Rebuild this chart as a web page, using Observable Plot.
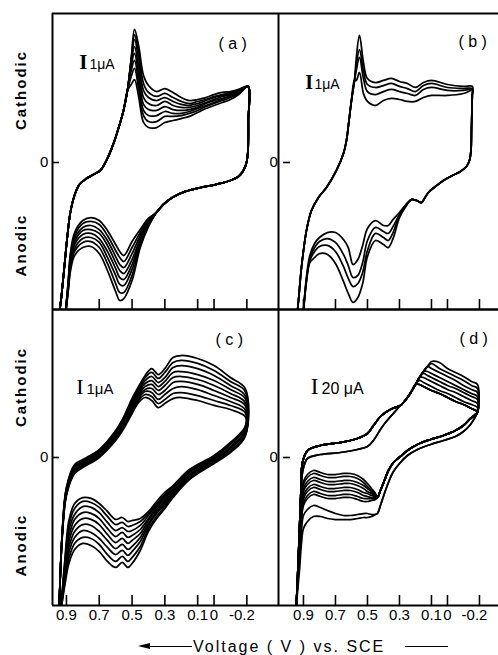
<!DOCTYPE html>
<html>
<head>
<meta charset="utf-8">
<script src="https://cdn.jsdelivr.net/npm/d3@7"></script>
<script src="https://cdn.jsdelivr.net/npm/@observablehq/plot@0.6"></script>
<style>
  html, body { margin: 0; padding: 0; background: #fff; }
  #fig { position: relative; width: 498px; height: 655px; overflow: hidden; background: #fff;
         font-family: "Liberation Sans", Arial, sans-serif; color: #000; }
  #fig svg { position: absolute; }
  .side { position: absolute; transform: translate(-50%, -50%) rotate(-90deg); font-weight: bold;
          font-size: 15px; letter-spacing: 2px; white-space: nowrap; line-height: 16px; }
  .xtitle { position: absolute; top: 637px; left: 193px; font-size: 16px; letter-spacing: 2px;
            line-height: 20px; white-space: nowrap; }
  .hline { position: absolute; height: 1.5px; background: #000; }
  .head { position: absolute; width: 0; height: 0; border-top: 3px solid transparent;
          border-bottom: 3px solid transparent; border-right: 12px solid #000; }
</style>
</head>
<body>
<div id="fig">
  <div class="side" style="left:21px;top:90px">Cathodic</div>
  <div class="side" style="left:21px;top:245px">Anodic</div>
  <div class="side" style="left:21px;top:387px">Cathodic</div>
  <div class="side" style="left:21px;top:545px">Anodic</div>
  <div class="head" style="left:138px;top:643px"></div>
  <div class="hline" style="left:148px;top:645.5px;width:44px"></div>
  <div class="xtitle">Voltage ( V ) vs. SCE</div>
  <div class="hline" style="left:405px;top:645.5px;width:43px"></div>
</div>
<script>
// ---------- axis ticks ----------
const X_TICKS = [0.9, 0.7, 0.5, 0.3, 0.1, 0, -0.2];
const X_TICK_LABELS = ["0.9", "0.7", "0.5", "0.3", "0.1", "0", "-0.2"];

// ---------- panel (a): potential V, current µA ----------
const A_LOW_V = [0.91, 0.89, 0.875, 0.85, 0.8, 0.75, 0.7, 0.65, 0.6, 0.575, 0.55, 0.5, 0.45, 0.4];
const A_LOW = [
  [-10.53, -8.07, -6.0, -4.67, -3.87, -3.67, -3.87, -4.53, -5.47, -5.93, -6.2, -5.27, -4.47, -3.73],
  [-10.53, -8.13, -6.13, -4.87, -4.07, -3.93, -4.13, -4.87, -5.87, -6.33, -6.6, -5.67, -4.67, -3.8],
  [-10.53, -8.2, -6.33, -5.07, -4.33, -4.2, -4.47, -5.2, -6.27, -6.8, -7.0, -6.07, -4.87, -3.87],
  [-10.53, -8.33, -6.47, -5.27, -4.53, -4.47, -4.73, -5.53, -6.67, -7.2, -7.4, -6.47, -5.07, -3.93],
  [-10.53, -8.4, -6.67, -5.47, -4.8, -4.73, -5.07, -5.93, -7.07, -7.67, -7.8, -6.8, -5.2, -4.0],
  [-10.53, -8.47, -6.8, -5.73, -5.07, -5.0, -5.33, -6.33, -7.53, -8.13, -8.2, -7.13, -5.33, -4.07],
  [-10.53, -8.6, -7.0, -5.93, -5.33, -5.27, -5.67, -6.73, -8.07, -8.67, -8.67, -7.53, -5.53, -4.2],
  [-10.53, -8.67, -7.2, -6.2, -5.67, -5.6, -6.07, -7.2, -8.6, -9.2, -9.07, -7.87, -5.67, -4.27]
];
const A_R_V = [0.351, 0.309, 0.254, 0.174, 0.083, -0.009, -0.1, -0.149, -0.179, -0.198, -0.207, -0.209, -0.207];
const A_R_I = [-3.33, -2.8, -2.33, -1.93, -1.67, -1.47, -1.2, -0.93, -0.53, 0, 0.8, 2.8, 5.07];
const A_UP_V = [-0.15, -0.1, -0.05, 0, 0.05, 0.1, 0.15, 0.2, 0.25, 0.3, 0.35, 0.4, 0.43, 0.46, 0.485, 0.505];
const A_UP = [
  [4.87, 4.73, 4.67, 4.53, 4.33, 4.2, 4.13, 4.33, 4.67, 4.93, 4.73, 5.13, 5.8, 7.8, 8.87, 6.93],
  [4.8, 4.67, 4.53, 4.4, 4.2, 4.07, 3.93, 4.07, 4.33, 4.6, 4.4, 4.67, 5.27, 7.33, 8.53, 6.87],
  [4.8, 4.6, 4.47, 4.33, 4.13, 3.93, 3.8, 3.87, 4.07, 4.33, 4.13, 4.33, 4.8, 6.93, 8.2, 6.8],
  [4.73, 4.53, 4.4, 4.2, 4.0, 3.8, 3.67, 3.67, 3.8, 4.07, 3.8, 3.93, 4.33, 6.4, 7.73, 6.67],
  [4.67, 4.47, 4.27, 4.13, 3.93, 3.67, 3.53, 3.47, 3.53, 3.73, 3.47, 3.53, 3.87, 5.87, 7.27, 6.47],
  [4.67, 4.4, 4.2, 4.0, 3.8, 3.6, 3.4, 3.27, 3.27, 3.4, 3.13, 3.13, 3.47, 5.4, 6.8, 6.13],
  [4.6, 4.33, 4.13, 3.93, 3.73, 3.47, 3.27, 3.13, 3.07, 3.07, 2.73, 2.73, 3.13, 4.93, 6.27, 5.73],
  [4.53, 4.2, 4.0, 3.8, 3.6, 3.33, 3.07, 2.93, 2.8, 2.67, 2.33, 2.33, 2.67, 4.4, 5.53, 5.2]
];
const A_L_V = [0.528, 0.552, 0.583, 0.613, 0.65, 0.693, 0.735, 0.778, 0.821, 0.851, 0.876, 0.894, 0.912, 0.93, 0.94, 0.946];
const A_L_I = [4.8, 3.47, 2.27, 1.27, 0.27, -0.53, -0.8, -1.07, -1.47, -2.2, -3.33, -4.87, -6.87, -8.87, -9.8, -10.87];

// ---------- panel (b) ----------
const B_LOW_V = [0.905, 0.88, 0.86, 0.83, 0.8, 0.75, 0.7, 0.65, 0.62, 0.59, 0.56, 0.53, 0.5, 0.45, 0.4, 0.37, 0.34, 0.3, 0.26];
const B_LOW = [
  [-10.53, -7.53, -6.2, -5.4, -5.0, -4.67, -4.67, -5.13, -5.67, -6.8, -6.47, -5.53, -4.4, -3.87, -4.2, -4.2, -3.8, -3.33, -2.8],
  [-10.53, -7.67, -6.4, -5.67, -5.27, -5.07, -5.33, -6.13, -6.87, -7.67, -7.53, -6.67, -5.2, -4.33, -4.6, -4.73, -4.27, -3.47, -2.87],
  [-10.53, -7.73, -6.53, -5.93, -5.6, -5.53, -5.93, -6.93, -7.73, -8.27, -8.07, -7.33, -5.87, -4.73, -5.0, -5.2, -4.67, -3.53, -2.87],
  [-10.53, -7.87, -6.67, -6.33, -6.07, -6.13, -6.73, -7.93, -8.73, -9.33, -9.0, -8.07, -6.27, -5.2, -5.47, -5.67, -5.07, -3.67, -2.93]
];
const B_R_V = [0.225, 0.194, 0.1625, 0.144, 0.119, 0.075, 0.025, -0.031, -0.081, -0.119, -0.1375, -0.147, -0.15, -0.153, -0.155];
const B_R_I = [-2.47, -2.53, -2.67, -2.4, -2.0, -1.6, -1.2, -0.87, -0.6, -0.27, 0.13, 0.8, 2.13, 3.47, 4.47];
const B_UP_V = [-0.156, -0.1, 0, 0.1, 0.15, 0.2, 0.25, 0.3, 0.35, 0.4, 0.45, 0.5, 0.525, 0.55, 0.57];
const B_UP = [
  [5.07, 5.07, 5.2, 5.47, 5.33, 5.0, 5.27, 5.4, 5.6, 5.47, 5.33, 5.6, 6.67, 8.47, 6.93],
  [4.93, 4.93, 5.0, 5.27, 5.13, 4.73, 4.93, 5.07, 5.27, 5.13, 5.0, 5.2, 6.13, 7.53, 6.47],
  [4.87, 4.8, 4.8, 5.0, 4.87, 4.47, 4.6, 4.73, 4.87, 4.73, 4.53, 4.73, 5.6, 7.0, 6.13],
  [4.8, 4.6, 4.47, 4.47, 4.33, 4.07, 4.07, 4.2, 4.27, 4.13, 3.8, 4.07, 4.6, 6.0, 5.47]
];
const B_L_V = [0.581, 0.6, 0.619, 0.631, 0.65, 0.694, 0.756, 0.806, 0.85, 0.881, 0.9125, 0.931, 0.944];
const B_L_I = [5.47, 4.13, 2.47, 1.47, 0.6, -0.53, -1.67, -2.33, -3.2, -4.53, -7.0, -9.2, -10.53];

// ---------- panel (c) ----------
const C_LOW_V = [0.935, 0.91, 0.885, 0.85, 0.8, 0.75, 0.7, 0.65, 0.6, 0.56, 0.525, 0.5, 0.45, 0.4, 0.35, 0.3, 0.25, 0.15, 0, -0.1, -0.19];
const C_LOW = [
  [-10.33, -6.87, -4.2, -3.07, -2.67, -2.73, -3.07, -3.6, -4.13, -4.0, -4.27, -4.2, -4.07, -3.6, -2.93, -2.33, -1.87, -0.8, 0.13, 1.0, 2.07],
  [-10.33, -7.07, -4.53, -3.4, -2.93, -3.0, -3.33, -3.93, -4.47, -4.33, -4.6, -4.53, -4.27, -3.73, -3.07, -2.47, -1.93, -0.87, 0.07, 0.93, 2.0],
  [-10.33, -7.27, -4.87, -3.8, -3.27, -3.33, -3.67, -4.33, -4.87, -4.67, -4.93, -4.87, -4.53, -3.87, -3.2, -2.6, -2.07, -0.93, 0, 0.87, 1.93],
  [-10.33, -7.47, -5.27, -4.13, -3.67, -3.73, -4.07, -4.73, -5.27, -5.0, -5.33, -5.2, -4.8, -4.07, -3.33, -2.73, -2.13, -1.0, -0.07, 0.73, 1.8],
  [-10.33, -7.67, -5.6, -4.53, -4.07, -4.13, -4.47, -5.13, -5.67, -5.4, -5.73, -5.53, -5.07, -4.2, -3.47, -2.87, -2.27, -1.13, -0.13, 0.67, 1.73],
  [-10.33, -7.87, -6.0, -4.93, -4.47, -4.53, -4.93, -5.53, -6.07, -5.8, -6.13, -5.93, -5.33, -4.4, -3.6, -3.0, -2.33, -1.2, -0.2, 0.6, 1.67],
  [-10.33, -8.07, -6.33, -5.33, -4.87, -5.0, -5.4, -6.0, -6.47, -6.2, -6.53, -6.27, -5.6, -4.53, -3.73, -3.13, -2.47, -1.27, -0.27, 0.47, 1.53],
  [-10.33, -8.33, -6.73, -5.73, -5.33, -5.4, -5.8, -6.47, -6.93, -6.6, -6.93, -6.67, -5.93, -4.73, -3.93, -3.27, -2.53, -1.4, -0.33, 0.4, 1.47],
  [-10.33, -8.53, -7.07, -6.13, -5.73, -5.87, -6.27, -6.93, -7.33, -7.0, -7.33, -7.07, -6.2, -4.93, -4.07, -3.4, -2.67, -1.47, -0.4, 0.33, 1.4]
];
const C_UP_V = [-0.19, -0.1, 0, 0.1, 0.2, 0.25, 0.3, 0.34, 0.38, 0.42, 0.46, 0.5, 0.55, 0.6, 0.7, 0.8, 0.85, 0.9, 0.925, 0.945];
const C_UP = [
  [4.6, 5.33, 6.13, 6.6, 6.8, 6.67, 5.93, 5.53, 5.93, 5.47, 4.73, 3.93, 2.73, 1.8, 0.53, -0.13, -0.47, -2.0, -4.87, -10.33],
  [4.4, 5.07, 5.8, 6.27, 6.47, 6.33, 5.67, 5.27, 5.67, 5.33, 4.6, 3.8, 2.67, 1.73, 0.47, -0.2, -0.53, -2.07, -4.93, -10.33],
  [4.13, 4.8, 5.47, 5.93, 6.13, 6.0, 5.33, 5.0, 5.4, 5.13, 4.47, 3.67, 2.53, 1.67, 0.4, -0.27, -0.6, -2.13, -4.93, -10.33],
  [3.93, 4.53, 5.13, 5.53, 5.73, 5.67, 5.07, 4.73, 5.13, 4.93, 4.33, 3.53, 2.47, 1.53, 0.33, -0.33, -0.67, -2.2, -5.0, -10.33],
  [3.67, 4.27, 4.8, 5.2, 5.4, 5.33, 4.8, 4.47, 4.87, 4.73, 4.2, 3.47, 2.33, 1.47, 0.27, -0.4, -0.73, -2.27, -5.0, -10.33],
  [3.47, 4.0, 4.47, 4.87, 5.07, 5.0, 4.47, 4.2, 4.6, 4.53, 4.07, 3.33, 2.27, 1.4, 0.2, -0.47, -0.8, -2.33, -5.07, -10.33],
  [3.2, 3.73, 4.13, 4.53, 4.73, 4.6, 4.2, 3.87, 4.33, 4.4, 3.93, 3.2, 2.13, 1.33, 0.13, -0.53, -0.87, -2.4, -5.07, -10.33],
  [3.0, 3.47, 3.8, 4.13, 4.33, 4.27, 3.87, 3.6, 4.07, 4.2, 3.8, 3.07, 2.07, 1.2, 0.07, -0.6, -0.93, -2.47, -5.13, -10.33],
  [2.73, 3.2, 3.47, 3.8, 4.0, 3.93, 3.6, 3.33, 3.8, 4.0, 3.67, 2.93, 1.93, 1.13, 0, -0.67, -1.07, -2.53, -5.2, -10.33]
];

// ---------- panel (d): current in µA (20 µA scale) ----------
const D_LOW_V = [0.947, 0.9375, 0.925, 0.9125, 0.9, 0.875, 0.8375, 0.794, 0.75, 0.7, 0.65, 0.606, 0.5625, 0.525, 0.5, 0.475, 0.45, 0.4375];
const D_LOW = [
  [-206.67, -164, -104, -57.33, -32, -22.67, -17.33, -20, -22.67, -22.67, -21.33, -21.33, -24, -29.33, -34.67, -41.33, -48, -53.33],
  [-206.67, -165.33, -106.67, -61.33, -36, -26.67, -21.33, -24, -26.67, -26.67, -25.33, -25.33, -28, -33.33, -38.67, -44, -49.33, -53.33],
  [-206.67, -165.33, -109.33, -65.33, -41.33, -32, -26.67, -29.33, -32, -32, -30.67, -30.67, -33.33, -37.33, -41.33, -45.33, -50.67, -53.33],
  [-206.67, -166.67, -112, -69.33, -45.33, -36, -30.67, -33.33, -36, -36, -34.67, -34.67, -37.33, -41.33, -45.33, -48, -52, -53.33],
  [-206.67, -168, -116, -72, -50.67, -41.33, -36, -38.67, -41.33, -41.33, -40, -40, -42.67, -46.67, -48, -50.67, -52, -53.33],
  [-206.67, -168, -118.67, -76, -54.67, -45.33, -40, -42.67, -45.33, -45.33, -44, -44, -46.67, -50.67, -52, -53.33, -53.33, -53.33],
  [-206.67, -169.33, -121.33, -80, -60, -50.67, -45.33, -48, -50.67, -50.67, -49.33, -49.33, -52, -54.67, -54.67, -54.67, -54.67, -53.33],
  [-206.67, -170.67, -124, -84, -64, -54.67, -49.33, -52, -54.67, -54.67, -53.33, -53.33, -56, -58.67, -58.67, -57.33, -56, -53.33],
  [-206.67, -174.67, -137.33, -97.33, -77.33, -69.33, -64, -66.67, -70.67, -74.67, -77.33, -77.33, -76, -74.67, -74.67, -76, -76, -74.67],
  [-206.67, -180, -150.67, -114.67, -94.67, -85.33, -78.67, -78.67, -81.33, -82.67, -82.67, -82.67, -81.33, -80, -80, -78.67, -76, -74.67]
];
const D_LR_V = [0.4375, 0.419, 0.394, 0.369, 0.3375, 0.294, 0.25, 0.1875, 0.106, 0.025, -0.05, -0.1, -0.144, -0.175, -0.1875];
const D_LR = [
  [-53.33, -44, -30.67, -17.33, -6.67, 1.33, 9.33, 17.33, 24, 29.33, 36, 42.67, 52, 57.33, 60],
  [-74.67, -64, -48, -33.33, -18.67, -6.67, 2.67, 10.67, 17.33, 22.67, 28, 34.67, 44, 54.67, 60]
];
const D_UP_V = [-0.1875, -0.15, -0.1, -0.05, 0, 0.05, 0.1, 0.125, 0.15, 0.175, 0.2, 0.225, 0.25, 0.275, 0.294];
const D_UP = [
  [97.33, 101.33, 108, 113.33, 118.67, 126.67, 128, 121.33, 114.67, 106.67, 97.33, 88, 80, 73.33, 69.33],
  [92, 96, 102.67, 108, 113.33, 118.67, 125.33, 121.33, 114.67, 106.67, 97.33, 88, 80, 73.33, 69.33],
  [86.67, 90.67, 96, 102.67, 108, 113.33, 118.67, 121.33, 114.67, 106.67, 97.33, 88, 80, 73.33, 69.33],
  [81.33, 85.33, 90.67, 96, 101.33, 106.67, 112, 114.67, 114.67, 106.67, 97.33, 88, 80, 73.33, 69.33],
  [77.33, 81.33, 86.67, 92, 96, 101.33, 106.67, 109.33, 112, 106.67, 97.33, 88, 80, 73.33, 69.33],
  [72, 76, 81.33, 86.67, 90.67, 96, 101.33, 104, 106.67, 106.67, 97.33, 88, 80, 73.33, 69.33],
  [66.67, 70.67, 74.67, 80, 85.33, 89.33, 94.67, 97.33, 100, 102.67, 97.33, 88, 80, 73.33, 69.33],
  [61.33, 65.33, 70.67, 74.67, 80, 85.33, 89.33, 92, 94.67, 97.33, 97.33, 88, 80, 73.33, 69.33]
];
const D_UL_V = [0.294, 0.344, 0.3875, 0.419, 0.4625, 0.5, 0.5625, 0.669, 0.794, 0.875, 0.906, 0.9156, 0.925, 0.9375, 0.947];
const D_UL = [
  [69.33, 65.33, 60, 54.67, 42.67, 32, 25.33, 20, 16, 9.33, -6.67, -44, -97.33, -164, -206.67],
  [69.33, 57.33, 46.67, 37.33, 22.67, 14.67, 10.67, 6.67, 4, -1.33, -20, -50.67, -101.33, -166.67, -206.67]
];

// ---------- assembly helpers ----------
function seg(V, I) { return V.map((v, j) => [v, I[j]]); }
function cyclePath(...segs) {
  const out = [];
  for (const s of segs) for (const p of s) {
    const q = out[out.length - 1];
    if (!q || q[0] !== p[0] || q[1] !== p[1]) out.push(p);
  }
  return out;
}
function toRows(paths) {
  return paths.flatMap((path, c) => path.map(([V, I]) => ({cycle: c, V, I})));
}

const rowsA = toRows(A_UP.map((up, i) => cyclePath(
  seg(A_LOW_V, A_LOW[A_LOW.length - 1 - i]), seg(A_R_V, A_R_I), seg(A_UP_V, up), seg(A_L_V, A_L_I))));
const rowsB = toRows(B_UP.map((up, i) => cyclePath(
  seg(B_LOW_V, B_LOW[B_LOW.length - 1 - i]), seg(B_R_V, B_R_I), seg(B_UP_V, up), seg(B_L_V, B_L_I))));
const rowsC = toRows(C_UP.map((up, i) => cyclePath(
  seg(C_LOW_V, C_LOW[C_LOW.length - 1 - i]), seg(C_UP_V, up))));
const rowsD = toRows(D_LOW.map((low, i) => {
  const special = i >= 8;
  return cyclePath(
    seg(D_LOW_V, low),
    seg(D_LR_V, D_LR[special ? 1 : 0]),
    seg(D_UP_V, D_UP[special ? 7 : 7 - i]),
    seg(D_UL_V, D_UL[special ? 1 : 0]));
}));

// ---------- panels ----------
const fig = document.getElementById("fig");
const FONT = "'Liberation Sans', Arial, sans-serif";
const SERIF = "'Liberation Serif', serif";

function label(text, dx, dy, opts = {}) {
  return Plot.text([text], {text: d => d, frameAnchor: "top-left", dx, dy, fontSize: 16, ...opts});
}

function panel({rows, xDomain, yDomain, left, top, mL, mT, mR, mB, plotW, plotH,
                zeroInsetLeft, zeroDx, tickLabels, extra}) {
  const marks = [
    Plot.line(rows, {x: "V", y: "I", z: "cycle", curve: "catmull-rom",
                     stroke: "black", strokeWidth: 1.75, clip: true}),
    Plot.ruleX([xDomain[0]], {strokeWidth: 2}),
    Plot.ruleY([yDomain[0]], {strokeWidth: 2}),
    Plot.ruleY([yDomain[1]], {strokeWidth: 1.8}),
    Plot.tickX(X_TICKS, {x: d => d, insetTop: plotH - 10, strokeWidth: 1.6}),
    Plot.tickY([0], {y: d => d, insetLeft: zeroInsetLeft, insetRight: plotW - zeroInsetLeft - 7, strokeWidth: 1.6}),
    Plot.text([0], {y: d => d, frameAnchor: "left", dx: zeroDx, text: d => String(d), fontSize: 15})
  ];
  if (tickLabels) {
    marks.push(Plot.text(X_TICKS.slice(0, 6), {x: d => d, frameAnchor: "bottom", dy: 14,
      text: (d, i) => X_TICK_LABELS[i], fontSize: 15}));
    marks.push(Plot.text(X_TICKS.slice(6), {x: d => d, frameAnchor: "bottom", dy: 14, dx: -5,
      text: (d, i) => X_TICK_LABELS[6 + i], fontSize: 15}));
  }
  marks.push(...extra);
  const svg = Plot.plot({
    width: mL + plotW + mR, height: mT + plotH + mB,
    marginLeft: mL, marginTop: mT, marginRight: mR, marginBottom: mB,
    x: {type: "linear", domain: xDomain, axis: null},
    y: {type: "linear", domain: yDomain, axis: null},
    style: {background: "transparent", overflow: "visible", fontFamily: FONT, color: "black"},
    marks
  });
  svg.style.left = left + "px";
  svg.style.top = top + "px";
  fig.appendChild(svg);
}

const X_LEFT = [0.985, -0.393];
const X_RIGHT = [1.056, -0.319];

panel({rows: rowsA, xDomain: X_LEFT, yDomain: [-9.8, 9.933], left: 0, top: 0,
  mL: 52, mT: 13, mR: 4, mB: 6, plotW: 226, plotH: 296, zeroInsetLeft: 0, zeroDx: -12.5, tickLabels: false,
  extra: [
    label("( a )", 166, 24),
    label("I", 35, 55, {fontSize: 21, fontFamily: SERIF, fontWeight: "bold", textAnchor: "end", lineAnchor: "bottom"}),
    label("1μA", 37, 55, {fontSize: 14, textAnchor: "start", lineAnchor: "bottom"})
  ]});

panel({rows: rowsB, xDomain: X_RIGHT, yDomain: [-9.8, 9.933], left: 240, top: 0,
  mL: 38, mT: 13, mR: 0, mB: 6, plotW: 220, plotH: 296, zeroInsetLeft: 5, zeroDx: -9, tickLabels: false,
  extra: [
    label("( b )", 180, 22),
    label("I", 34.5, 75, {fontSize: 20, fontFamily: SERIF, fontWeight: "bold", textAnchor: "end", lineAnchor: "bottom"}),
    label("1μA", 36, 75, {fontSize: 14, textAnchor: "start", lineAnchor: "bottom"})
  ]});

panel({rows: rowsC, xDomain: X_LEFT, yDomain: [-9.867, 9.867], left: 0, top: 303,
  mL: 52, mT: 6, mR: 4, mB: 29, plotW: 226, plotH: 296, zeroInsetLeft: 0, zeroDx: -12.5, tickLabels: true,
  extra: [
    label("( c )", 163, 24),
    label("I", 31, 84, {fontSize: 22, fontFamily: SERIF, textAnchor: "end", lineAnchor: "bottom"}),
    label("1μA", 34, 84, {fontSize: 15, textAnchor: "start", lineAnchor: "bottom"})
  ]});

panel({rows: rowsD, xDomain: X_RIGHT, yDomain: [-197.33, 197.33], left: 240, top: 303,
  mL: 38, mT: 6, mR: 0, mB: 29, plotW: 220, plotH: 296, zeroInsetLeft: 5, zeroDx: -9, tickLabels: true,
  extra: [
    label("( d )", 181, 23),
    label("I", 40, 84, {fontSize: 23, fontFamily: SERIF, textAnchor: "end", lineAnchor: "bottom"}),
    label("20 μA", 43, 84, {fontSize: 16, textAnchor: "start", lineAnchor: "bottom"})
  ]});
</script>
</body>
</html>
